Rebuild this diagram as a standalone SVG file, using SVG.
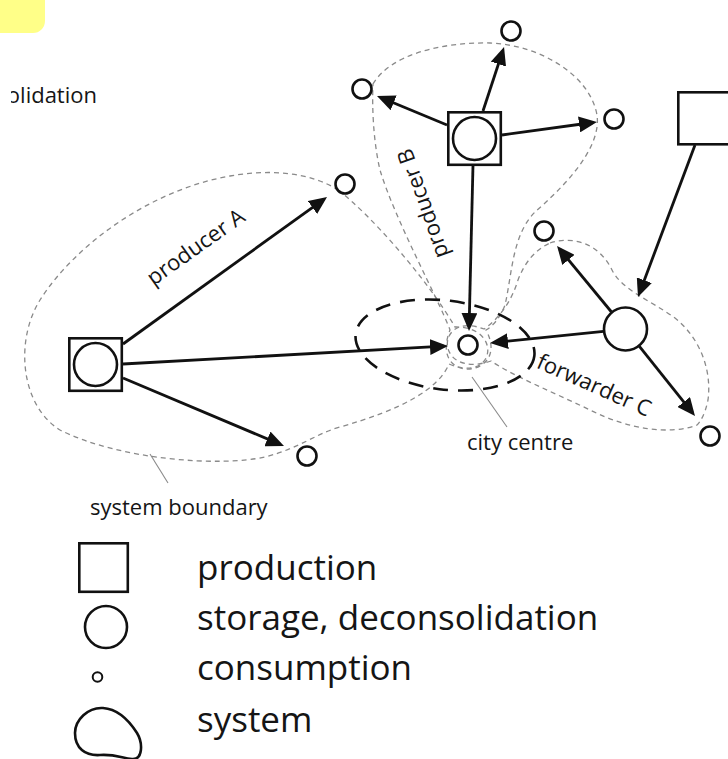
<svg xmlns="http://www.w3.org/2000/svg" width="728" height="759" viewBox="0 0 728 759">
  <style>
    .lbl { font-family: "Open Sans", "Noto Sans", "DejaVu Sans", sans-serif; fill: #151515; }
    .sm { font-size: 22px; }
    .lg { font-size: 35px; }
    .node { fill: #fff; stroke: #111; stroke-width: 2.6; }
    .edge { fill: none; stroke: #111; stroke-width: 2.8; marker-end: url(#arr); }
    .bound { fill: none; stroke: #8a8a8a; stroke-width: 1.3; stroke-dasharray: 5 4; }
    .lead { stroke: #8a8a8a; stroke-width: 1.1; }
    .centre { fill: none; stroke: #111; stroke-width: 2.6; stroke-dasharray: 15 10; }
  </style>
  <defs>
    <marker id="arr" viewBox="0 0 18 16" refX="14" refY="8" markerWidth="18" markerHeight="16" markerUnits="userSpaceOnUse" orient="auto">
      <path d="M0,0 L18,8 L0,16 Z" fill="#111"/>
    </marker>
    <clipPath id="caption-clip">
      <rect x="11" y="70" width="120" height="50"/>
    </clipPath>
  </defs>

  <rect width="728" height="759" fill="#fff"/>

  <!-- highlight tab and trimmed caption at top left -->
  <rect x="-20" y="-20" width="65" height="53" rx="12" fill="#ffff88"/>
  <text class="lbl sm" x="97" y="103" text-anchor="end" clip-path="url(#caption-clip)">olidation</text>

  <!-- system boundaries -->
  <g id="boundaries">
    <path id="boundary-a" class="bound" d="M338,190 C370,214 428,280 455,327 C503,326 496,384 449,364 C438,390 400,410 340,427 C315,434 300,448 265,457 C220,467 120,460 60,430 C20,405 15,340 40,300 C75,245 150,190 230,176 C270,169 310,172 338,190 Z"/>
    <path id="boundary-b" class="bound" d="M373,84 C390,55 440,42 490,43 C540,45 590,75 597,115 C602,150 560,190 535,212 C512,235 512,275 505,305 C500,318 493,326 486,330 C512,378 428,386 450,330 C438,298 395,220 380,170 C373,140 372,105 373,84 Z"/>
    <path id="boundary-c" class="bound" d="M550,243 C575,235 600,245 612,270 C622,290 650,300 675,318 C700,338 712,370 708,400 C705,415 700,422 697,425 C670,435 630,430 590,410 C555,393 515,377 491,361 C434,380 434,310 484,329 C500,318 512,300 518,280 C525,262 535,250 550,243 Z"/>
  </g>

  <!-- city centre area -->
  <ellipse id="city-centre-area" class="centre" cx="445" cy="345" rx="90" ry="44.5" transform="rotate(7 445 345)"/>

  <!-- leader lines -->
  <line class="lead" x1="150" y1="454" x2="168" y2="483"/>
  <line class="lead" x1="472" y1="377" x2="507" y2="427"/>

  <!-- connectors -->
  <g id="connectors">
    <line class="edge" x1="123" y1="344" x2="323.8" y2="199.3"/>
    <line class="edge" x1="123" y1="364" x2="444" y2="346.2"/>
    <line class="edge" x1="123" y1="378" x2="280.3" y2="444.4"/>
    <line class="edge" x1="483" y1="111" x2="502.8" y2="50.8"/>
    <line class="edge" x1="447" y1="125" x2="380.7" y2="97.5"/>
    <line class="edge" x1="502" y1="135" x2="593" y2="122.5"/>
    <line class="edge" x1="473" y1="165" x2="469.1" y2="327"/>
    <line class="edge" x1="695" y1="145" x2="639.4" y2="293.3"/>
    <line class="edge" x1="611.5" y1="312" x2="559.6" y2="249.1"/>
    <line class="edge" x1="603.6" y1="331.3" x2="494" y2="342.6"/>
    <line class="edge" x1="639.2" y1="346.2" x2="692.5" y2="412.9"/>
  </g>

  <!-- producer A -->
  <g id="producer-a">
    <rect class="node" x="69.3" y="338.3" width="52.5" height="52.5"/>
    <circle class="node" cx="95.5" cy="364.5" r="21.5"/>
  </g>
  <g id="consumer-a1"><circle class="node" cx="345" cy="184" r="9.5"/></g>
  <g id="consumer-a2"><circle class="node" cx="307" cy="456" r="9.5"/></g>

  <!-- producer B -->
  <g id="producer-b">
    <rect class="node" x="448.3" y="112.3" width="52.5" height="52.5"/>
    <circle class="node" cx="474.5" cy="138.5" r="21.5"/>
  </g>
  <g id="consumer-b1"><circle class="node" cx="511" cy="31" r="9.5"/></g>
  <g id="consumer-b2"><circle class="node" cx="362" cy="89" r="9.5"/></g>
  <g id="consumer-b3"><circle class="node" cx="614" cy="119" r="9.5"/></g>

  <!-- producer at right edge -->
  <g id="producer-d">
    <rect class="node" x="678.3" y="92.3" width="60" height="52"/>
  </g>

  <!-- forwarder C -->
  <g id="forwarder-c"><circle class="node" cx="625.5" cy="329" r="21.5"/></g>
  <g id="consumer-c1"><circle class="node" cx="544" cy="231" r="9.5"/></g>
  <g id="consumer-c2"><circle class="node" cx="710" cy="436" r="9.5"/></g>

  <!-- city centre consumer -->
  <g id="city-centre"><circle class="node" cx="468" cy="345" r="9.5"/></g>

  <!-- labels -->
  <text class="lbl sm" text-anchor="middle" transform="translate(200 253) rotate(-35.5)">producer A</text>
  <text class="lbl sm" text-anchor="middle" transform="translate(430 201) rotate(-109.5)">producer B</text>
  <text class="lbl sm" text-anchor="middle" transform="translate(591 392) rotate(24)">forwarder C</text>
  <text class="lbl sm" x="467" y="450">city centre</text>
  <text class="lbl sm" x="90" y="515">system boundary</text>

  <!-- legend -->
  <g id="legend">
    <rect class="node" x="79.3" y="543.3" width="48.5" height="48.5"/>
    <circle class="node" cx="106" cy="627" r="21"/>
    <circle class="node" cx="97.5" cy="677" r="4.8" style="stroke-width:2"/>
    <path class="node" d="M75,733 C75,720 88,707 103,708 C118,709 130,722 137,733 C143,743 143,760 132,759 C122,758 115,754 100,755 C85,756 75,748 75,733 Z"/>
    <text class="lbl lg" x="197" y="580">production</text>
    <text class="lbl lg" x="197" y="630">storage, deconsolidation</text>
    <text class="lbl lg" x="197" y="680">consumption</text>
    <text class="lbl lg" x="197" y="732">system</text>
  </g>
</svg>
